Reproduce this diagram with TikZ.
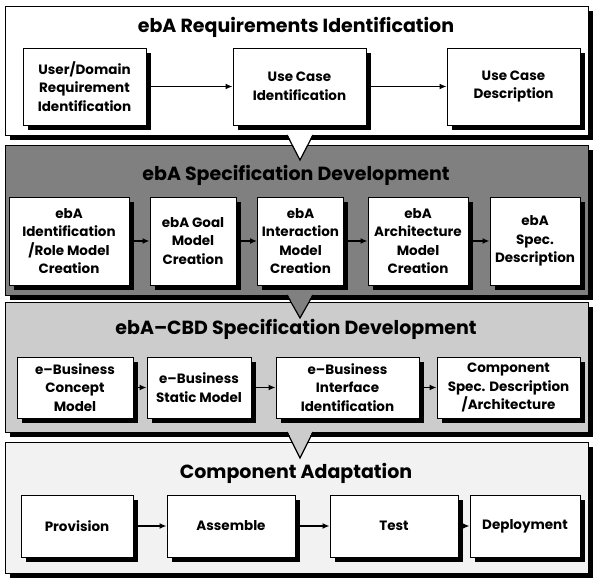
\documentclass[tikz,border=0pt]{standalone}
\usepackage{fontspec}
\setmainfont{Poppins}
\usetikzlibrary{shadows,arrows.meta,calc}
\definecolor{darkpanel}{gray}{0.5}
\definecolor{midpanel}{gray}{0.8}
\definecolor{lightpanel}{gray}{0.95}

\begin{document}
\begin{tikzpicture}[x=1pt,y=-1pt,
    panel/.style={draw=black,line width=1pt,anchor=north west,minimum width=583pt,
        drop shadow={shadow xshift=4pt,shadow yshift=-4pt,fill=black,opacity=1}},
    procbox/.style={draw=black,fill=white,line width=1pt,align=center,inner sep=1pt,
        font=\fontsize{13.5}{18.5}\selectfont\bfseries,
        drop shadow={shadow xshift=4.5pt,shadow yshift=-4.5pt,fill=black,opacity=1}},
    paneltitle/.style={font=\fontsize{19}{22}\selectfont\bfseries},
    flow/.style={-{Latex[length=7pt,width=6pt]},line width=1.8pt}]
    \useasboundingbox (0,0) rectangle (594,579);
    % the four phases
    \node[panel,fill=white,minimum height=129pt] (p1) at (5,6) {};
    \node[panel,fill=darkpanel,minimum height=150pt] (p2) at (5,145) {};
    \node[panel,fill=midpanel,minimum height=130pt] (p3) at (5,302) {};
    \node[panel,fill=lightpanel,minimum height=131pt] (p4) at (5,442) {};
    % callouts
    \coordinate (c1) at (300,160);
    \coordinate (c2) at (300,318);
    \coordinate (c3) at (300,458);
    \fill[white] (287,133) -- (c1) -- (313,133) -- cycle;
    \draw[line width=1.2pt] (287,135) -- (c1) -- (313,135);
    \fill[darkpanel] (287,293) -- (c2) -- (313,293) -- cycle;
    \draw[line width=1.2pt] (287,295) -- (c2) -- (313,295);
    \fill[midpanel] (287,430) -- (c3) -- (313,430) -- cycle;
    \draw[line width=1.2pt] (287,432) -- (c3) -- (313,432);
    % titles
    \node[paneltitle] (t1) at (296,27) {ebA Requirements Identification};
    \node[paneltitle] (t2) at (296,175) {ebA Specification Development};
    \node[paneltitle] (t3) at (296,329) {ebA--CBD Specification Development};
    \node[paneltitle] (t4) at (296,473) {Component Adaptation};
    % ebA requirements identification
    \node[procbox,minimum width=123pt,minimum height=77pt] (r1) at (84.5,86.5) {User/Domain\\Requirement\\Identification};
    \node[procbox,minimum width=133pt,minimum height=77pt] (r2) at (299.5,86.5) {Use Case\\Identification};
    \node[procbox,minimum width=133pt,minimum height=77pt] (r3) at (513.5,86.5) {Use Case\\Description};
    \draw[flow] (r1) -- (r2);
    \draw[flow] (r2) -- (r3);
    % ebA specification development
    \node[procbox,minimum width=120pt,minimum height=88pt] (s1) at (69,241) {ebA\\Identification\\/Role Model\\Creation};
    \node[procbox,minimum width=86pt,minimum height=88pt] (s2) at (193,241) {ebA Goal\\Model\\Creation};
    \node[procbox,minimum width=86pt,minimum height=88pt] (s3) at (300.5,241) {ebA\\Interaction\\Model\\Creation};
    \node[procbox,minimum width=100pt,minimum height=88pt] (s4) at (418,241) {ebA\\Architecture\\Model\\Creation};
    \node[procbox,minimum width=90pt,minimum height=88pt] (s5) at (535,241) {ebA\\Spec.\\Description};
    \draw[flow] (s1) -- (s2);
    \draw[flow] (s2) -- (s3);
    \draw[flow] (s3) -- (s4);
    \draw[flow] (s4) -- (s5);
    % ebA-CBD specification development
    \node[procbox,minimum width=116pt,minimum height=61pt] (d1) at (75,387.5) {e--Business\\Concept\\Model};
    \node[procbox,minimum width=104pt,minimum height=61pt] (d2) at (199,387.5) {e--Business\\Static Model};
    \node[procbox,minimum width=143pt,minimum height=61pt] (d3) at (347.5,387.5) {e--Business\\Interface\\Identification};
    \node[procbox,minimum width=143pt,minimum height=61pt] (d4) at (508.5,387.5) {Component\\Spec. Description\\/Architecture};
    \draw[flow] (d1) -- (d2);
    \draw[flow] (d2) -- (d3);
    \draw[flow] (d3) -- (d4);
    % component adaptation
    \node[procbox,minimum width=112pt,minimum height=62pt] (a1) at (77,526) {Provision};
    \node[procbox,minimum width=128pt,minimum height=62pt] (a2) at (231,526) {Assemble};
    \node[procbox,minimum width=128pt,minimum height=62pt] (a3) at (394,526) {Test};
    \node[procbox,minimum width=110pt,minimum height=62pt] (a4) at (525,526) {Deployment};
    \draw[flow] (a1) -- (a2);
    \draw[flow] (a2) -- (a3);
    \draw[flow] (a3) -- (a4);
\end{tikzpicture}
\end{document}
